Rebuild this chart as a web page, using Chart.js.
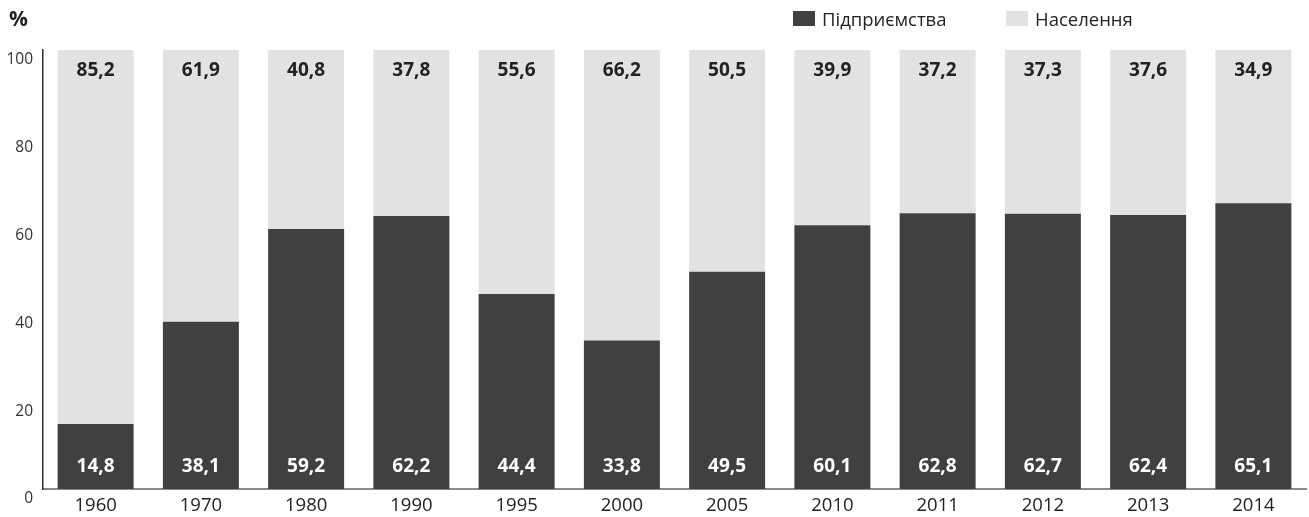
<!DOCTYPE html>
<html>
<head>
<meta charset="utf-8">
<script src="https://cdn.jsdelivr.net/npm/chart.js@4"></script>
<style>
  html, body { margin: 0; padding: 0; background: #fff; }
  #wrap { position: relative; width: 1309px; height: 517px; font-family: "Open Sans", "Noto Sans", sans-serif; }
  #unit { position: absolute; left: 9px; top: 4px; font-size: 21px; font-weight: 700; color: #222; }
  .legend { position: absolute; top: 6px; font-size: 18.5px; color: #222; display: flex; align-items: center; }
  .legend i { display: inline-block; width: 22px; height: 15px; margin-right: 7px; }
</style>
</head>
<body>
<div id="wrap">
  <canvas id="chart" width="1309" height="517"></canvas>
  <div id="unit">%</div>
  <div class="legend" style="left:793px"><i style="background:#404040"></i>Підприємства</div>
  <div class="legend" style="left:1006px"><i style="background:#e1e2e4"></i>Населення</div>
</div>
<script>
const years = ["1960", "1970", "1980", "1990", "1995", "2000", "2005", "2010", "2011", "2012", "2013", "2014"];
const enterprises = [14.8, 38.1, 59.2, 62.2, 44.4, 33.8, 49.5, 60.1, 62.8, 62.7, 62.4, 65.1];
const population = [85.2, 61.9, 40.8, 37.8, 55.6, 66.2, 50.5, 39.9, 37.2, 37.3, 37.6, 34.9];
const yTicks = [0, 20, 40, 60, 80, 100];

const fmt = (v) => v.toFixed(1).replace(".", ",");

const valueLabels = {
  id: "valueLabels",
  afterDatasetsDraw(chart) {
    const ctx = chart.ctx;
    ctx.save();
    ctx.font = "700 19px 'Open Sans', 'Noto Sans', sans-serif";
    ctx.textAlign = "center";
    ctx.textBaseline = "middle";
    chart.getDatasetMeta(0).data.forEach((bar, i) => {
      ctx.fillStyle = "#ffffff";
      ctx.fillText(fmt(enterprises[i]), bar.x, bar.base - 22);
    });
    chart.getDatasetMeta(1).data.forEach((bar, i) => {
      ctx.fillStyle = "#222222";
      ctx.fillText(fmt(population[i]), bar.x, bar.y + 21);
    });
    ctx.restore();
  },
};

new Chart(document.getElementById("chart"), {
  type: "bar",
  data: {
    labels: years,
    datasets: [
      { label: "Підприємства", data: enterprises, backgroundColor: "#404040", categoryPercentage: 1, barPercentage: 0.722 },
      { label: "Населення", data: population, backgroundColor: "#e1e2e4", categoryPercentage: 1, barPercentage: 0.722 },
    ],
  },
  options: {
    responsive: false,
    animation: false,
    layout: { padding: { top: 50, right: 3, left: 0, bottom: 0 } },
    plugins: { legend: { display: false }, tooltip: { enabled: false } },
    scales: {
      x: {
        stacked: true,
        grid: { display: false, drawTicks: false },
        border: { color: "#8a8a8a", width: 2 },
        ticks: { color: "#222", font: { family: "'Open Sans', 'Noto Sans', sans-serif", size: 18.5 }, padding: 6 },
        afterFit: (s) => { s.height = 28; },
      },
      y: {
        stacked: true,
        min: 0,
        max: 100,
        afterBuildTicks: (s) => { s.ticks = yTicks.map((v) => ({ value: v })); },
        grid: { display: false, drawTicks: false },
        border: { color: "#333", width: 1.5 },
        ticks: { color: "#333", font: { family: "'Open Sans', 'Noto Sans', sans-serif", size: 15.5 }, padding: 10, labelOffset: 10 },
        afterFit: (s) => { s.width = 43; },
      },
    },
  },
  plugins: [valueLabels],
});
</script>
</body>
</html>
